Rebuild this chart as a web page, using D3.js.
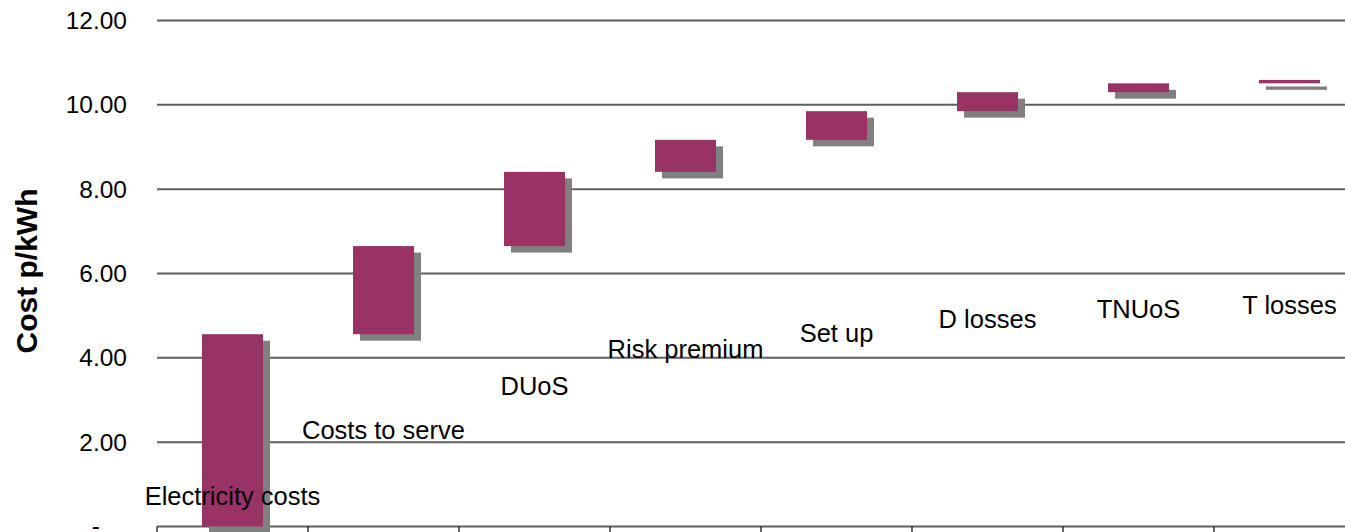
<!DOCTYPE html>
<html>
<head>
<meta charset="utf-8">
<script src="https://cdn.jsdelivr.net/npm/d3@7"></script>
<style>
  html, body { margin: 0; padding: 0; background: #ffffff; }
  svg { display: block; font-family: "Liberation Sans", Arial, sans-serif; }
</style>
</head>
<body>
<svg id="chart" width="1345" height="532"></svg>
<script>
// Cost build-up per kWh (p/kWh), one step per component
const categories = ["Electricity costs", "Costs to serve", "DUoS", "Risk premium", "Set up", "D losses", "TNUoS", "T losses"];
const increments = [4.56, 2.09, 1.76, 0.76, 0.68, 0.45, 0.21, 0.08];
const yTickValues = [0, 2, 4, 6, 8, 10, 12];
const yTitle = "Cost p/kWh";

const W = 1345, H = 532;
const left = 157, step = 151;
const barColor = "#993366";
const shadowColor = "#808080";
const gridColor = "#5f5f5f";

// running totals: each step floats on top of the previous ones
let run = 0;
const steps = categories.map((c, i) => {
  const base = run;
  run += increments[i];
  return { cat: c, base: base, top: run };
});

const svg = d3.select("#chart");
svg.append("rect").attr("width", W).attr("height", H).attr("fill", "#fff");

const x = d3.scaleBand().domain(categories).range([left, left + step * categories.length]).padding(0);
const y = d3.scaleLinear().domain([0, 12]).range([526.5, 20.5]);

// horizontal gridlines (including the zero line acting as the category axis)
svg.append("g").selectAll("line")
  .data(yTickValues)
  .join("line")
  .attr("x1", left).attr("x2", left + step * categories.length)
  .attr("y1", d => y(d)).attr("y2", d => y(d))
  .attr("stroke", gridColor).attr("stroke-width", 2);

// category boundary tick marks below the zero line
const boundaries = categories.map(c => x(c)).concat([x(categories[categories.length - 1]) + x.step()]);
svg.append("g").selectAll("line")
  .data(boundaries)
  .join("line")
  .attr("x1", d => d).attr("x2", d => d)
  .attr("y1", y(0)).attr("y2", y(0) + 7)
  .attr("stroke", "#000").attr("stroke-width", 1.2);

// value axis labels (zero is shown as a dash)
const yAxis = d3.axisLeft(y)
  .tickValues(yTickValues)
  .tickSize(0)
  .tickPadding(30)
  .tickFormat(d => d === 0 ? "-" : d3.format(".2f")(d));
const ya = svg.append("g").attr("transform", `translate(${left},0)`).call(yAxis);
ya.select(".domain").remove();
ya.selectAll("text")
  .attr("font-family", "'Liberation Sans', Arial, sans-serif")
  .attr("font-size", 24.5)
  .attr("fill", "#000");
ya.selectAll(".tick").filter(d => d === 0).select("text")
  .attr("x", -57).attr("dy", "0.28em");

// bar geometry
const barW = x.bandwidth() * 0.404;
const bx = d => x(d.cat) + (x.bandwidth() - barW) / 2;
const sdx = 7, sdy = 6.5;

// drop shadows
svg.append("g").selectAll("rect")
  .data(steps)
  .join("rect")
  .attr("x", d => bx(d) + sdx)
  .attr("y", d => y(d.top) + sdy)
  .attr("width", barW)
  .attr("height", d => y(d.base) - y(d.top))
  .attr("fill", shadowColor);

// floating bars
svg.append("g").selectAll("rect")
  .data(steps)
  .join("rect")
  .attr("x", d => bx(d))
  .attr("y", d => y(d.top))
  .attr("width", barW)
  .attr("height", d => y(d.base) - y(d.top))
  .attr("fill", barColor);

// category labels sit at the middle of the hidden base of each step
svg.append("g").selectAll("text")
  .data(steps)
  .join("text")
  .attr("x", d => x(d.cat) + x.bandwidth() / 2)
  .attr("y", d => Math.min(y(d.base / 2), y(0) - 30))
  .attr("dy", "0.35em")
  .attr("text-anchor", "middle")
  .attr("font-size", 25.5)
  .attr("fill", "#000")
  .text(d => d.cat);

// axis title
svg.append("text")
  .attr("transform", "translate(26,271) rotate(-90)")
  .attr("dy", "0.35em")
  .attr("text-anchor", "middle")
  .attr("font-size", 30)
  .attr("font-weight", "bold")
  .attr("fill", "#000")
  .text(yTitle);
</script>
</body>
</html>
